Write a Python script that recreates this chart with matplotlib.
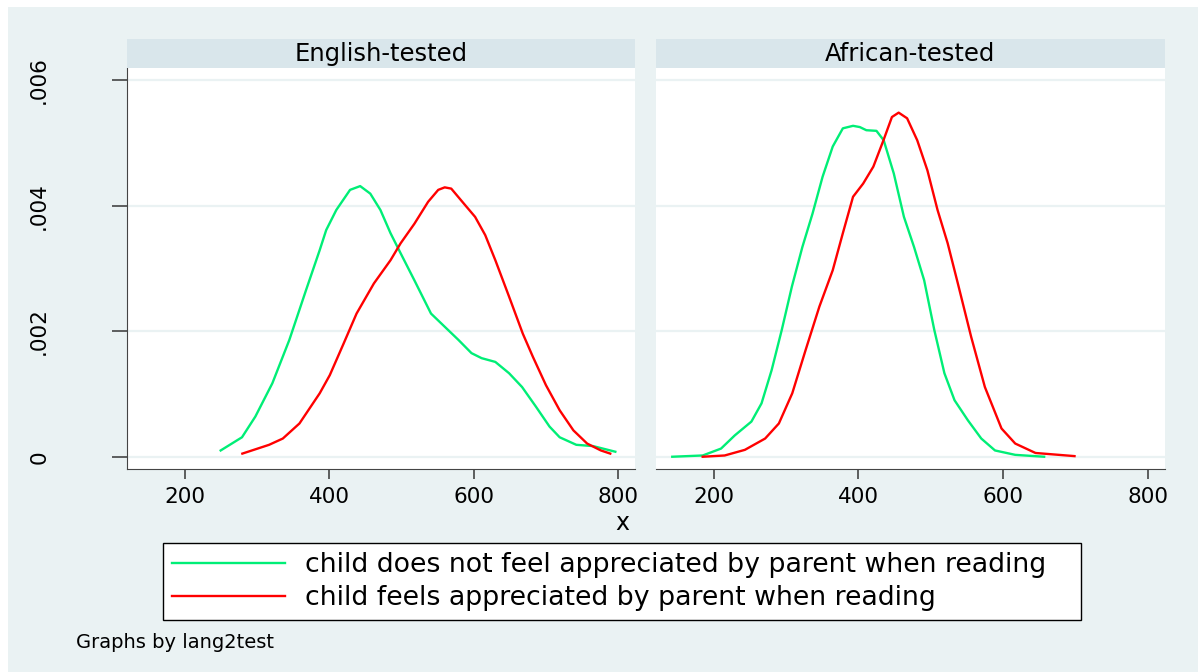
import matplotlib
matplotlib.use("Agg")
import matplotlib.pyplot as plt
from matplotlib.patches import Rectangle
from matplotlib.lines import Line2D

# kernel density estimates of reading score, by test language
eng_no_x = [250, 279.5, 298, 321.5, 345, 368, 387, 396, 410, 429, 443, 457, 471, 485,
            499, 518, 541, 560, 579, 597, 611, 630, 649, 667, 686, 705, 719, 742, 765, 796]
eng_no_y = [0.00010, 0.00031, 0.00064, 0.00117, 0.00186, 0.00265, 0.00329, 0.00361,
            0.00393, 0.00425, 0.00431, 0.00419, 0.00393, 0.00356, 0.00324, 0.00281,
            0.00228, 0.00207, 0.00186, 0.00165, 0.00157, 0.00151, 0.00133, 0.00111,
            0.00080, 0.00048, 0.00031, 0.00019, 0.00017, 0.00008]

eng_yes_x = [280, 317, 336, 359, 387, 401, 420, 438, 462, 485, 499, 518, 537, 551, 560,
             569, 588, 602, 616, 630, 649, 668, 682, 700, 719, 738, 757, 776, 789]
eng_yes_y = [0.00005, 0.00019, 0.00029, 0.00053, 0.00101, 0.00130, 0.00180, 0.00228,
             0.00276, 0.00313, 0.00340, 0.00371, 0.00406, 0.00425, 0.00429, 0.00427,
             0.00401, 0.00382, 0.00353, 0.00313, 0.00255, 0.00196, 0.00159, 0.00114,
             0.00074, 0.00042, 0.00021, 0.00010, 0.00005]

afr_no_x = [142.5, 184.6, 210, 229, 252, 266, 280, 294, 308, 322.5, 336.5, 350.5, 364.5,
            378.5, 392.6, 402, 411, 425, 435, 449, 463, 477, 491, 505, 519, 533, 551.5,
            570, 589, 617, 657]
afr_no_y = [0.0, 0.00002, 0.00013, 0.00034, 0.00056, 0.00085, 0.00138, 0.00202, 0.00271,
            0.00334, 0.00387, 0.00446, 0.00494, 0.00523, 0.00527, 0.00525, 0.00520,
            0.00519, 0.00504, 0.00451, 0.00382, 0.00334, 0.00281, 0.00202, 0.00133,
            0.00090, 0.00058, 0.00029, 0.00010, 0.00003, 0.0]

afr_yes_x = [184.6, 215, 243, 271, 290, 308.5, 327, 346, 364.5, 378.5, 392.6, 406.6,
             420.7, 434.7, 446.4, 455.7, 467.4, 481.4, 495.5, 509.5, 523.5, 537.6, 556,
             575, 598, 617, 645, 699]
afr_yes_y = [0.0, 0.00002, 0.00011, 0.00029, 0.00053, 0.00101, 0.00170, 0.00239, 0.00297,
             0.00356, 0.00414, 0.00435, 0.00462, 0.00504, 0.00541, 0.00548, 0.00539,
             0.00504, 0.00456, 0.00393, 0.00340, 0.00276, 0.00191, 0.00111, 0.00045,
             0.00021, 0.00006, 0.00001]

panel_titles = ["English-tested", "African-tested"]
series_labels = ["child does not feel appreciated by parent when reading",
                 "child feels appreciated by parent when reading"]
x_ticks = [200, 400, 600, 800]
y_ticks = [0, 0.002, 0.004, 0.006]
y_ticklabels = ["0", ".002", ".004", ".006"]

GREEN = "#00EE76"
RED = "#FF0000"
BG = "#EAF2F3"
STRIP = "#D9E6EB"
W, H = 1198, 672

plt.rcParams["font.family"] = "DejaVu Sans"
fig = plt.figure(figsize=(W / 100, H / 100), dpi=100, facecolor="white")
fig.add_artist(Rectangle((8 / W, 0), 1, 1 - 7 / H, transform=fig.transFigure,
                         facecolor=BG, edgecolor="none", zorder=-10))

panels = [
    (126.7, [(eng_no_x, eng_no_y), (eng_yes_x, eng_yes_y)]),
    (656.0, [(afr_no_x, afr_no_y), (afr_yes_x, afr_yes_y)]),
]
ax_w = 508.5 / W
ax_b = 1 - 469.3 / H
ax_h = (469.3 - 68.3) / H

for i, (left_px, curves) in enumerate(panels):
    ax = fig.add_axes([left_px / W, ax_b, ax_w, ax_h])
    ax.set_facecolor("white")
    for (xs, ys), col in zip(curves, [GREEN, RED]):
        ax.plot(xs, ys, color=col, lw=1.7, solid_joinstyle="round")
    ax.set_xlim(120, 823.5)
    ax.set_ylim(-0.0002, 0.006186)
    ax.set_xticks(x_ticks)
    ax.set_yticks(y_ticks)
    ax.grid(axis="y", color=BG, lw=1.6)
    ax.set_axisbelow(True)
    for s in ["top", "right"]:
        ax.spines[s].set_visible(False)
    ax.spines["bottom"].set_color("#444444")
    ax.tick_params(axis="x", length=7, width=1.2, color="#444444",
                   labelsize=15.5, pad=6)
    if i == 0:
        ax.spines["left"].set_color("#444444")
        ax.set_yticklabels(y_ticklabels)
        ax.tick_params(axis="y", length=11, width=1.2, color="#444444",
                       labelsize=15.5, pad=52)
        for t in ax.get_yticklabels():
            t.set_rotation(90)
            t.set_va("center")
            t.set_ha("center")
    else:
        ax.spines["left"].set_visible(False)
        ax.tick_params(axis="y", length=0, labelleft=False)

    # panel header strip
    sax = fig.add_axes([left_px / W, 1 - 67.5 / H, ax_w, 28.5 / H])
    sax.set_facecolor(STRIP)
    sax.set_xticks([])
    sax.set_yticks([])
    for s in sax.spines.values():
        s.set_visible(False)
    sax.text(0.5, 0.47, panel_titles[i], ha="center", va="center",
             fontsize=17.5, transform=sax.transAxes)

fig.text(622 / W, 1 - 523 / H, "x", ha="center", va="center", fontsize=17)

handles = [Line2D([], [], color=GREEN, lw=1.7), Line2D([], [], color=RED, lw=1.7)]
leg = fig.legend(handles, series_labels, loc="upper left",
                 bbox_to_anchor=(163 / W, 1 - 621 / H, 918 / W, 78 / H),
                 mode="expand", fontsize=19.3, handlelength=4.2, handletextpad=0.75,
                 borderpad=0.35, labelspacing=0.25, borderaxespad=0,
                 fancybox=False, edgecolor="black", framealpha=1)
leg.get_frame().set_linewidth(1.0)
leg._legend_box.align = "left"

fig.text(76 / W, 1 - 643 / H, "Graphs by lang2test", ha="left", va="center",
         fontsize=14)

fig.savefig("out.png", dpi=100, facecolor=fig.get_facecolor())
